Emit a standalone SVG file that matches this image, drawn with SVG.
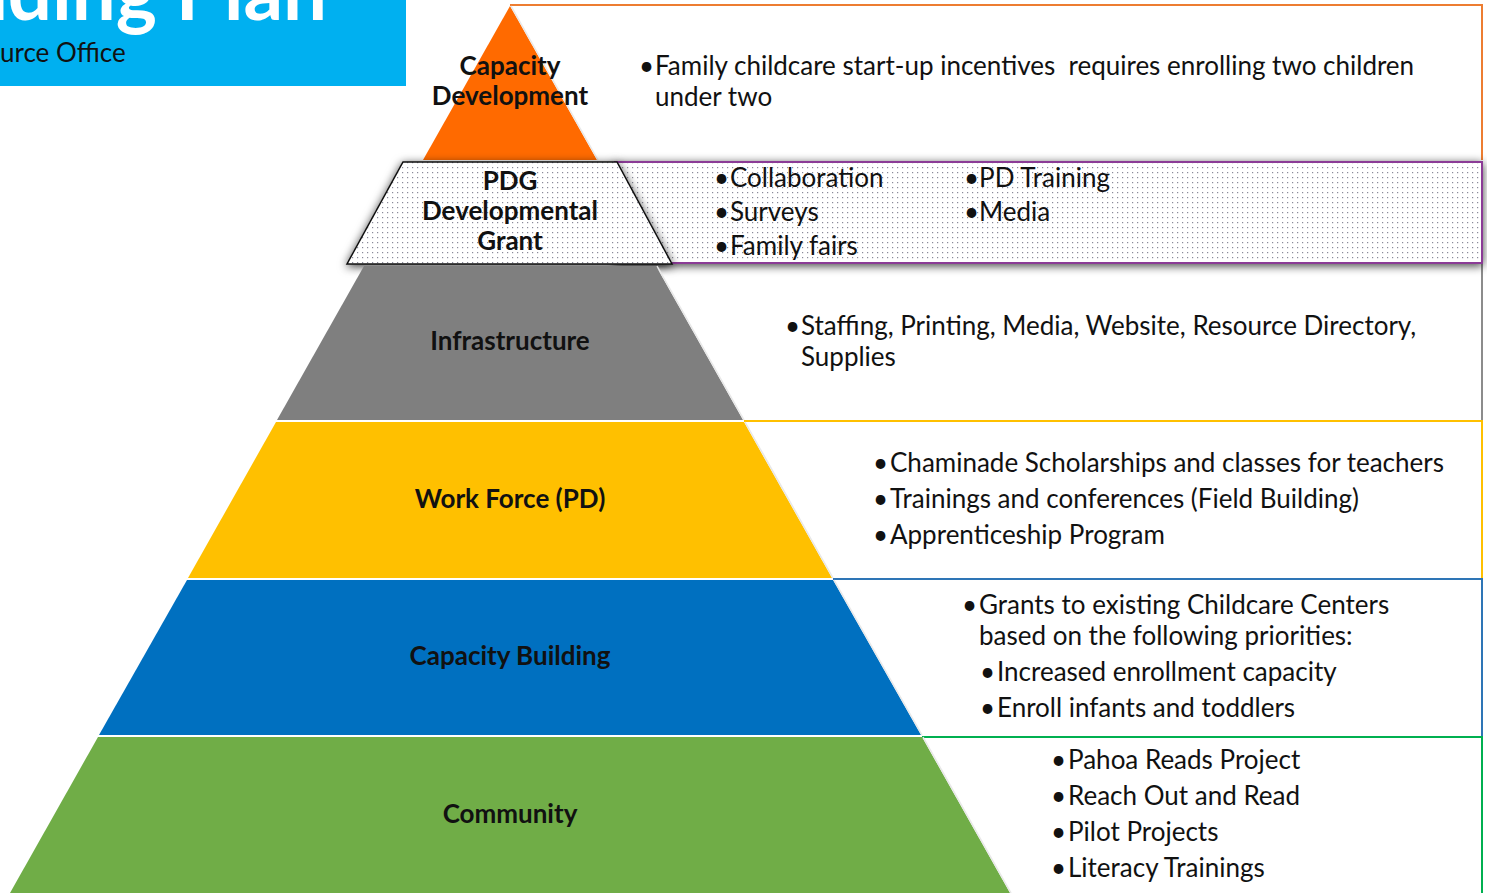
<svg xmlns="http://www.w3.org/2000/svg" width="1487" height="893" viewBox="0 0 1487 893">
<defs>
<pattern id="dots" width="5" height="5" patternUnits="userSpaceOnUse">
<rect width="5" height="5" fill="#ffffff"/>
<rect x="2" y="2" width="1.2" height="1.2" fill="#8a8a9a"/>
</pattern>
<filter id="shadow" x="-20%" y="-40%" width="140%" height="180%">
<feDropShadow dx="0" dy="2" stdDeviation="5" flood-color="#000" flood-opacity="0.75"/>
</filter>
</defs>
<style>
.lvl{font-family:Lato,"Liberation Sans",sans-serif;font-weight:bold;font-size:26px;fill:#111;text-anchor:middle}
.body{font-family:Lato,"Liberation Sans",sans-serif;font-size:26px;fill:#111}
.rowfill{fill:#ffffff}
.rowline{fill:none;stroke-width:2}
.edge{stroke:#e8e8e8;stroke-width:1.5;fill:none}
</style>
<rect width="1487" height="893" fill="#ffffff"/>

<g id="title">
<rect x="0" y="0" width="406" height="86" fill="#00B0F0"/>
<text x="327" y="20" font-family="Lato,'Liberation Sans',sans-serif" font-weight="bold" font-size="78" fill="#ffffff" text-anchor="end">nding Plan</text>
<text x="0" y="62" font-family="Lato,'Liberation Sans',sans-serif" font-size="26" fill="#111">urce Office</text>
</g>

<g id="rows">
<polygon class="rowfill" points="510,5 1482,5 1482,160 597,160"/>
<polyline class="rowline" points="510,5 1482,5 1482,160" stroke="#ED7D31"/>
<polygon class="rowfill" points="656,265 1482,265 1482,420 743,420"/>
<polyline class="rowline" points="1482,264 1482,421" stroke="#8C8C8C"/>
<polyline class="rowline" points="744,421 1482,421 1482,578" stroke="#FFC000"/>
<polyline class="rowline" points="833,579 1482,579 1482,736" stroke="#2E75B6"/>
<polyline class="rowline" points="922,737 1482,737 1482,893" stroke="#00B050"/>
<rect x="615" y="162" width="867" height="101" fill="url(#dots)" stroke="#8B3A96" stroke-width="2" filter="url(#shadow)"/>
</g>

<g id="capacity-development">
<polygon points="510,6 423,160 597,160" fill="#FF6A00"/>
<line class="edge" x1="511" y1="6" x2="598" y2="160"/>
<text class="lvl" x="510" y="75">Capacity</text>
<text class="lvl" x="510" y="105">Development</text>
<text class="body" x="639" y="75" xml:space="preserve">•<tspan x="655">Family childcare start-up incentives  requires enrolling two children</tspan></text>
<text class="body" x="655" y="106">under two</text>
</g>

<g id="pdg">
<polygon points="403,162 617,162 672,264 347,264" fill="url(#dots)" stroke="#111" stroke-width="1.5" filter="url(#shadow)"/>
<text class="lvl" x="510" y="190">PDG</text>
<text class="lvl" x="510" y="220">Developmental</text>
<text class="lvl" x="510" y="250">Grant</text>
<text class="body" x="714" y="187">•<tspan x="730">Collaboration</tspan></text>
<text class="body" x="714" y="221">•<tspan x="730">Surveys</tspan></text>
<text class="body" x="714" y="255">•<tspan x="730">Family fairs</tspan></text>
<text class="body" x="964" y="187">•PD Training</text>
<text class="body" x="964" y="221">•Media</text>
</g>

<g id="infrastructure">
<polygon points="364,266 656,266 743,420 277,420" fill="#7F7F7F"/>
<line class="edge" x1="657" y1="266" x2="744" y2="420"/>
<text class="lvl" x="510" y="350">Infrastructure</text>
<text class="body" x="785" y="335">•<tspan x="801">Staffing, Printing, Media, Website, Resource Directory,</tspan></text>
<text class="body" x="801" y="366">Supplies</text>
</g>

<g id="workforce">
<polygon points="276,422 744,422 832,578 188,578" fill="#FFC000"/>
<line class="edge" x1="745" y1="422" x2="833" y2="578"/>
<text class="lvl" x="510" y="508">Work Force (PD)</text>
<text class="body" x="873" y="472">•<tspan x="890">Chaminade Scholarships and classes for teachers</tspan></text>
<text class="body" x="873" y="508">•<tspan x="890">Trainings and conferences (Field Building)</tspan></text>
<text class="body" x="873" y="544">•<tspan x="890">Apprenticeship Program</tspan></text>
</g>

<g id="capacity-building">
<polygon points="187,580 833,580 921,735 99,735" fill="#0070C0"/>
<line class="edge" x1="834" y1="580" x2="922" y2="735"/>
<text class="lvl" x="510" y="665">Capacity Building</text>
<text class="body" x="962" y="614">•<tspan x="979">Grants to existing Childcare Centers</tspan></text>
<text class="body" x="979" y="645">based on the following priorities:</text>
<text class="body" x="980" y="681">•<tspan x="997">Increased enrollment capacity</tspan></text>
<text class="body" x="980" y="717">•<tspan x="997">Enroll infants and toddlers</tspan></text>
</g>

<g id="community">
<polygon points="98,737 922,737 1010,893 10,893" fill="#70AD47"/>
<line class="edge" x1="923" y1="737" x2="1011" y2="893"/>
<text class="lvl" x="510" y="823">Community</text>
<text class="body" x="1051" y="769">•<tspan x="1068">Pahoa Reads Project</tspan></text>
<text class="body" x="1051" y="805">•<tspan x="1068">Reach Out and Read</tspan></text>
<text class="body" x="1051" y="841">•<tspan x="1068">Pilot Projects</tspan></text>
<text class="body" x="1051" y="877">•<tspan x="1068">Literacy Trainings</tspan></text>
</g>
</svg>
